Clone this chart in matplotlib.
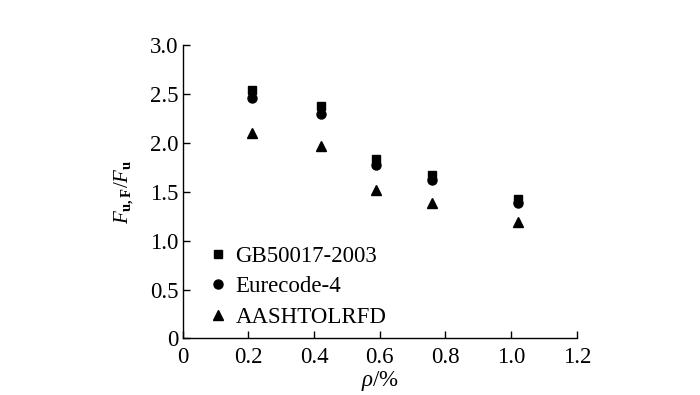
import numpy as np
import matplotlib
matplotlib.use("Agg")
import matplotlib.pyplot as plt
from matplotlib.ticker import FuncFormatter

plt.rcParams['font.family'] = ['Liberation Serif', 'DejaVu Serif']
plt.rcParams['mathtext.fontset'] = 'custom'
plt.rcParams['mathtext.rm'] = 'Liberation Serif'
plt.rcParams['mathtext.it'] = 'Liberation Serif:italic'
plt.rcParams['mathtext.bf'] = 'Liberation Serif:bold'

# reinforcement ratio rho (%)
rho = [0.21, 0.42, 0.59, 0.76, 1.02]
# Fu,F / Fu for each design code
gb50017 = [2.54, 2.38, 1.84, 1.67, 1.43]
eurocode4 = [2.46, 2.30, 1.78, 1.62, 1.39]
aashto = [2.10, 1.97, 1.52, 1.39, 1.19]
labels = ['GB50017-2003', 'Eurecode-4', 'AASHTOLRFD']

fig = plt.figure(figsize=(7, 3.95), dpi=100)
ax = fig.add_axes([0.261, 0.1435, 0.563, 0.7415])

ax.plot(rho, gb50017, 's', color='black', markersize=6, label=labels[0])
ax.plot(rho, eurocode4, 'o', color='black', markersize=6.5, label=labels[1])
ax.plot(rho, aashto, '^', color='black', markersize=7, label=labels[2])

ax.set_xlim(0, 1.2)
ax.set_ylim(0, 3.0)
ax.set_xticks(np.arange(0, 1.21, 0.2))
ax.set_yticks(np.arange(0, 3.01, 0.5))
fmt = FuncFormatter(lambda v, p: '0' if abs(v) < 1e-9 else '%.1f' % v)
ax.xaxis.set_major_formatter(fmt)
ax.yaxis.set_major_formatter(fmt)
ax.tick_params(direction='in', length=5, width=1, labelsize=16.5, pad=3)
ax.tick_params(axis='x', pad=6)
for s in ['top', 'right']:
    ax.spines[s].set_visible(False)
for s in ['left', 'bottom']:
    ax.spines[s].set_linewidth(1)

ax.set_xlabel(r'$\it{\rho}$/%', fontsize=16.5, labelpad=1)
ax.set_ylabel(r'$F_{\mathbf{u,F}}/F_{\mathbf{u}}$', fontsize=15, labelpad=10)

ax.legend(loc='lower left', frameon=False, fontsize=16.5, handletextpad=0.25,
          handlelength=1.0, borderaxespad=0.05, labelspacing=0.42,
          bbox_to_anchor=(0.035, 0.0))

fig.savefig('out.png', dpi=100)
